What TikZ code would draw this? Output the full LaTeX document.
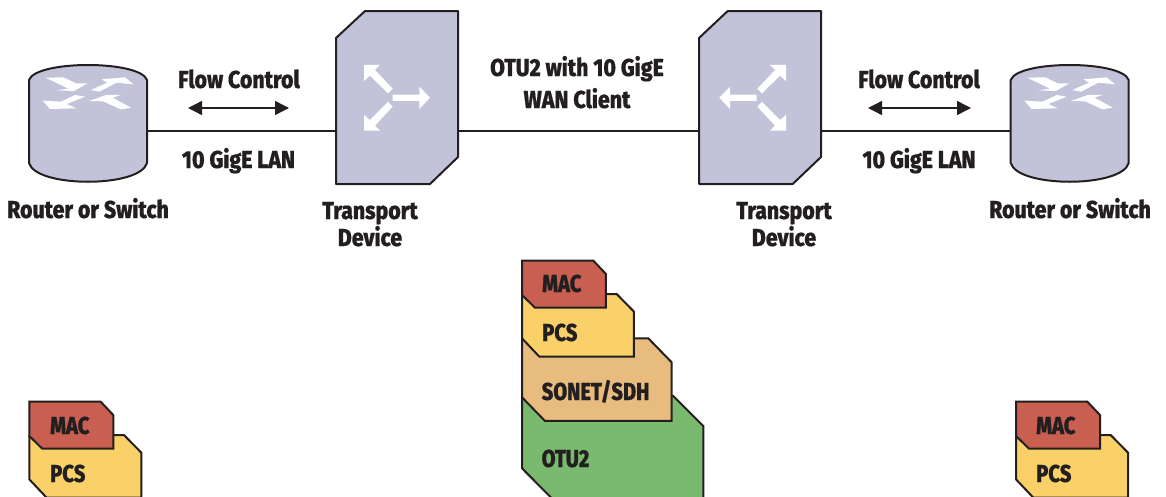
\documentclass[tikz,border=0pt]{standalone}
\usepackage{fontspec}
\setmainfont[FakeStretch=0.87,FakeBold=0.5]{Fira Sans ExtraBold}
\newfontfamily\layfont[FakeStretch=0.82,FakeBold=0.5]{Fira Sans ExtraBold}
\usetikzlibrary{arrows.meta}
\definecolor{ink}{HTML}{231F20}
\definecolor{dev}{HTML}{C2C3D9}
\definecolor{macc}{HTML}{C85F50}
\definecolor{pcsc}{HTML}{FAD069}
\definecolor{sonc}{HTML}{E8BC7E}
\definecolor{otuc}{HTML}{7ABA6E}
\tikzset{
  devbody/.style={draw=ink,fill=dev,line width=2pt,line join=round},
  layerbox/.style={draw=ink,line width=2pt,line join=miter},
  link/.style={draw=ink,line width=1.5pt},
  flow/.style={draw=ink,line width=1.4pt,{Triangle[length=14pt,width=14pt]}-{Triangle[length=14pt,width=14pt]}},
  lbl/.style={text=ink,font=\fontsize{24.5}{26}\selectfont,inner sep=0pt,anchor=base},
  laylbl/.style={text=ink,font=\fontsize{24.5}{26}\selectfont\layfont,inner sep=0pt,anchor=base west},
  whitearrow/.style={fill=white,draw=none}
}
\newcommand{\routerbody}[1]{%
 \begin{scope}[shift={(#1,0)}]
  \draw[devbody] (29,80) .. controls (36,60) and (140,60) .. (147,80) -- (147,163)
     .. controls (140,188) and (36,188) .. (29,163) -- cycle;
  \begin{scope}[shift={(0,40)},x=.3333pt,y=-.3333pt]
   \fill[whitearrow] (137,113)--(190,112)--(228,130)--(263,130)--(222,153)--(170,151)--(205,146)--cycle;
   \fill[whitearrow] (272,150)--(322,128)--(305,118)--(375,112)--(400,133)--(350,128)--(298,155)--cycle;
   \fill[whitearrow] (128,182)--(183,185)--(225,165)--(255,170)--(200,192)--(228,205)--(150,207)--cycle;
   \fill[whitearrow] (267,183)--(318,165)--(362,165)--(338,173)--(393,203)--(362,208)--(310,184)--cycle;
  \end{scope}
 \end{scope}}
\newcommand{\macpcs}[2]{%
 \begin{scope}[shift={(#1,#2)},x=.3333pt,y=-.3333pt]
  \filldraw[layerbox,fill=pcsc] (66,135)--(350,132)--(402,185)--(402,320)--(118,320)--(66,265)--cycle;
  \filldraw[layerbox,fill=macc] (66,32)--(280,32)--(318,72)--(318,173)--(105,173)--(66,135)--cycle;
 \end{scope}}
\begin{document}
\begin{tikzpicture}[x=1pt,y=-1pt]
\useasboundingbox (0,0) rectangle (1166,496);
\clip (0,0) rectangle (1166,496);
\coordinate (r1e) at (147,131);
\coordinate (t1w) at (336,131);
\coordinate (t1e) at (458,131);
\coordinate (t2w) at (699,131);
\coordinate (t2e) at (821,131);
\coordinate (r2w) at (1011,131);
\coordinate (f1a) at (188,108);
\coordinate (f1b) at (289,108);
\coordinate (f2a) at (868,108);
\coordinate (f2b) at (971,108);
\draw[link] (r1e) -- (t1w);
\draw[link] (t1e) -- (t2w);
\draw[link] (t2e) -- (r2w);
\draw[flow] (f1a) -- (f1b);
\draw[flow] (f2a) -- (f2b);
\routerbody{0}
\routerbody{981.7}
\draw[devbody] (336,38)--(365,11)--(458,11)--(458,157)--(430,184)--(336,184)--cycle;
\begin{scope}[shift={(320,0)},x=.3333pt,y=-.3333pt]
 \fill[whitearrow] (218,284)--(298,284)--(298,260)--(330,293)--(298,327)--(298,303)--(218,303)--cycle;
 \fill[whitearrow] (132,195)--(180,195)--(165,210)--(218,266)--(204,280)--(150,227)--(132,243)--cycle;
 \fill[whitearrow] (132,392)--(180,392)--(165,377)--(218,320)--(204,306)--(150,360)--(132,345)--cycle;
\end{scope}
\draw[devbody] (699,38)--(727.7,11)--(821,11)--(821,157)--(792.7,184)--(699,184)--cycle;
\begin{scope}[shift={(690,0)},x=.3333pt,y=-.3333pt]
 \fill[whitearrow] (200,284)--(120,284)--(120,260)--(88,293)--(120,327)--(120,303)--(200,303)--cycle;
 \fill[whitearrow] (288,195)--(240,195)--(255,210)--(202,266)--(216,280)--(270,227)--(288,243)--cycle;
 \fill[whitearrow] (288,392)--(240,392)--(255,377)--(202,320)--(216,306)--(270,360)--(288,345)--cycle;
\end{scope}
\begin{scope}[shift={(500,250)},x=.3333pt,y=-.3333pt]
 \filldraw[layerbox,fill=otuc] (520,438)--(610,528)--(610,780)--(190,780)--(66,655)--(66,440)--cycle;
 \filldraw[layerbox,fill=sonc] (66,265)--(445,265)--(515,337)--(515,513)--(135,513)--(66,442)--cycle;
\end{scope}
\macpcs{500}{250}
\macpcs{7.3}{391}
\macpcs{994}{391}
\node[lbl] (fc1) at (239,88) {Flow Control};
\node[lbl] (lan1) at (238.5,168) {10 GigE LAN};
\node[lbl] (rs1) at (88,218) {Router or Switch};
\node[lbl] (tp1) at (370,219) {Transport};
\node[lbl] (dv1) at (370,246) {Device};
\node[lbl] (otu1) at (577,76) {OTU2 with 10 GigE};
\node[lbl] (otu2) at (577,108) {WAN Client};
\node[lbl] (fc2) at (919,88) {Flow Control};
\node[lbl] (lan2) at (919,168) {10 GigE LAN};
\node[lbl] (rs2) at (1070,218) {Router or Switch};
\node[lbl] (tp2) at (784,219) {Transport};
\node[lbl] (dv2) at (784,246) {Device};
\node[laylbl] (m1) at (542,292) {MAC};
\node[laylbl] (p1) at (542,341) {PCS};
\node[laylbl] (s1) at (541.5,400) {SONET/SDH};
\node[laylbl] (o1) at (541.5,467) {OTU2};
\node[laylbl] (m2) at (50,434) {MAC};
\node[laylbl] (p2) at (50,482) {PCS};
\node[laylbl] (m3) at (1036,434) {MAC};
\node[laylbl] (p3) at (1036,482) {PCS};
\end{tikzpicture}
\end{document}
